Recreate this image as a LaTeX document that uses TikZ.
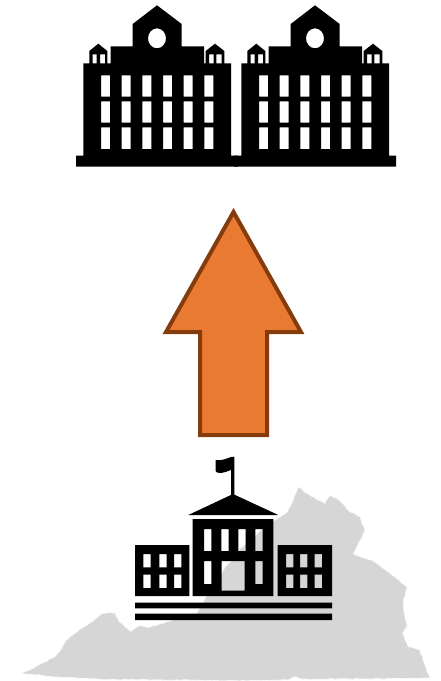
\documentclass[tikz,border=0pt]{standalone}
\usetikzlibrary{decorations.pathmorphing}
\definecolor{stategrey}{HTML}{D6D6D6}
\definecolor{arroworange}{HTML}{E97A32}
\definecolor{arrowedge}{HTML}{843C0C}
\tikzset{
  icon/.style={fill=black,even odd rule,draw=none},
  pics/mansion/.style={code={
    \path[icon]
      (76,155.7) -- (83.3,155.7) -- (83.3,63.3) -- (89.3,63.3) -- (89.3,51) -- (98.3,43.7) -- (107.3,51) -- (107.3,63.3)
      -- (110.7,63.3) -- (110.7,46.3) -- (132.7,46.3) -- (132.7,24) -- (157,5.3) -- (181.7,24) -- (181.7,46.3) -- (204,46.3) -- (204,63.3)
      -- (205.7,63.3) -- (205.7,51) -- (215,43.7) -- (224.3,51) -- (224.3,63.3) -- (231,63.3) -- (231,155.7) -- (238,155.7) -- (238,166.7) -- (76,166.7) -- cycle
      (157,38.3) ellipse [x radius=9,y radius=10]
      (92.7,54.3) rectangle (96.7,63.3) (100,54.3) rectangle (105,63.3)
      (209,54.3) rectangle (213.7,63.3) (216.3,54.3) rectangle (221.7,63.3)
      \foreach \wx in {101,121.7,142.3,163,183.7,204.3}{
        (\wx,75.3) rectangle ++(9,21.4)
        (\wx,101.3) rectangle ++(9,21.4)
        (\wx,127.3) rectangle ++(9,21.7)
      };
  }}
}
\pgfmathsetseed{7}
\begin{document}
\begin{tikzpicture}[x=1pt,y=-1pt]
\useasboundingbox (0,0) rectangle (441,681);
% state silhouette
\begin{scope}[x=0.3333pt,y=-0.3333pt,yshift=-470pt]
\path[fill=stategrey,draw=white!85!stategrey,line width=0.8pt,line join=round,
      decorate,decoration={random steps,segment length=3.5pt,amplitude=0.5pt}]
 (62,610) -- (100,595) -- (130,578) -- (165,560) -- (178,545) -- (198,512) -- (225,490) -- (250,472) -- (285,448) -- (308,430) -- (345,428)
 -- (358,455) -- (375,470) -- (392,484) -- (420,466) -- (448,472) -- (500,455) -- (590,430) -- (640,340) -- (720,235) -- (790,175) -- (830,148)
 -- (862,125) -- (880,90) -- (895,50) -- (925,72) -- (950,88) -- (975,100) -- (990,75) -- (1020,92) -- (1045,122) -- (1080,140) -- (1095,180)
 -- (1082,210) -- (1060,250) -- (1085,262) -- (1115,270) -- (1150,295) -- (1190,325) -- (1222,352) -- (1210,390) -- (1212,425) -- (1222,468)
 -- (1208,490) -- (1225,530) -- (1260,540) -- (1275,585) -- (1290,625) -- (905,628) -- (885,620) -- (865,630) -- (700,632) -- (300,628) -- (180,622) -- cycle;
\end{scope}
% two mansions
\pic at (0,0) {mansion};
\pic at (158,0) {mansion};
% arrow
\path[fill=arroworange,draw=arrowedge,line width=4pt,miter limit=10]
 (233.5,212) -- (301,332) -- (267,332) -- (267,435) -- (200,435) -- (200,332) -- (166,332) -- cycle;
% school: flag and pole
\path[icon] (231,470) .. controls (226,472) and (222,473) .. (220,473) .. controls (217,473) and (216,472) .. (215.7,471) -- (215.7,460)
  .. controls (220,461) and (226,459) .. (231,457) -- (234.3,456.7) -- (234.3,495) -- (231,495) -- cycle;
% roof
\path[icon] (233,494) -- (278.3,515) -- (188.3,515) -- cycle;
% centre block
\path[icon] (192.7,519) rectangle (273.3,596)
 \foreach \wx in {204,221.3,238.3,255.3}{ (\wx,529) rectangle ++(7.4,22) }
 (204,561) rectangle ++(7.4,23) (255.3,561) rectangle ++(7.4,23)
 (221.5,561) rectangle (244.5,590.5);
% wings
\path[icon] (135,545) rectangle (189.3,596)
 \foreach \wx in {143.3,159.3,174}{ (\wx,554) rectangle ++(7.3,13.3) (\wx,574.5) rectangle ++(7.3,13.5) };
\path[icon] (277.7,545) rectangle (332,596)
 \foreach \wx in {286,300,314.7}{ (\wx,554) rectangle ++(7.3,13.3) (\wx,574.5) rectangle ++(7.3,13.5) };
% ground lines
\path[icon] (135,602.7) rectangle (332,608.3) (135,613.7) rectangle (332,620);
\end{tikzpicture}
\end{document}
